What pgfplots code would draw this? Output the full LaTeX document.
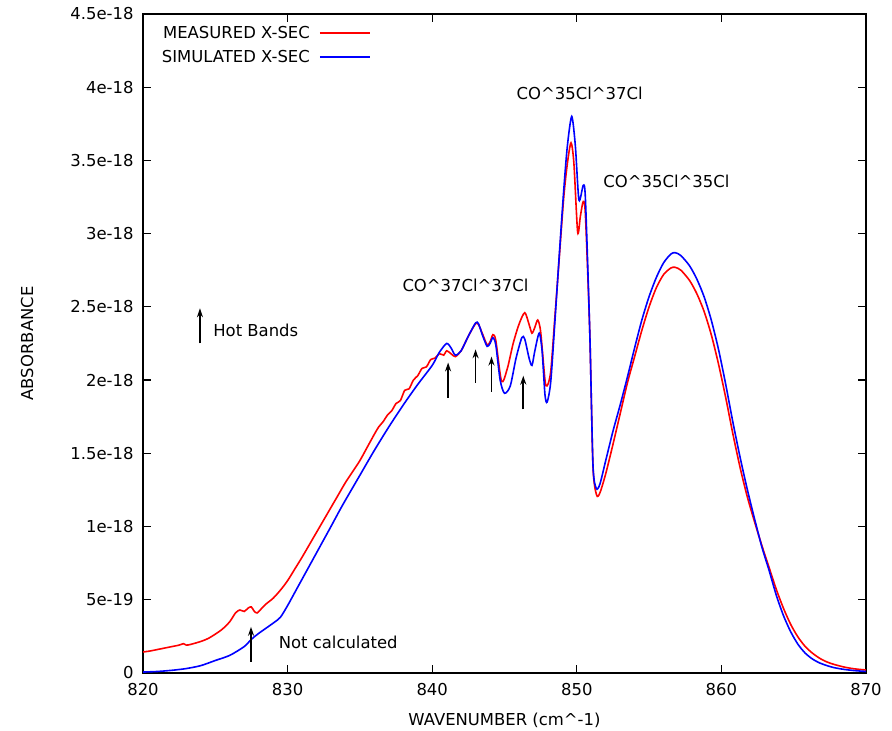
\documentclass[border=0pt]{standalone}
\usepackage{fontspec}
\setmainfont{DejaVu Sans}
\usepackage{pgfplots}
\pgfplotsset{compat=1.18}
\usetikzlibrary{arrows.meta}

% Absorbance cross sections, in units of 1e-18
\pgfplotstableread{
x y
820.0 0.143
820.5 0.150
821.0 0.160
821.5 0.170
822.0 0.180
822.5 0.190
822.8 0.200
823.0 0.190
823.3 0.195
824.0 0.215
824.5 0.235
825.0 0.265
825.5 0.300
826.0 0.350
826.4 0.410
826.7 0.430
827.0 0.420
827.3 0.445
827.5 0.450
827.7 0.420
827.9 0.410
828.2 0.440
828.5 0.470
829.0 0.510
829.5 0.565
830.0 0.630
830.5 0.710
831.0 0.790
831.5 0.875
832.0 0.960
832.5 1.045
833.0 1.130
833.5 1.215
834.0 1.300
834.5 1.375
835.0 1.450
835.5 1.540
836.0 1.630
836.3 1.680
836.6 1.715
836.9 1.760
837.2 1.790
837.5 1.840
837.8 1.860
838.1 1.930
838.4 1.940
838.7 2.000
839.0 2.030
839.3 2.080
839.6 2.090
839.9 2.140
840.2 2.150
840.5 2.180
840.8 2.170
841.0 2.200
841.3 2.180
841.6 2.160
842.0 2.200
842.5 2.300
843.0 2.385
843.2 2.380
843.5 2.310
843.8 2.240
844.0 2.260
844.2 2.310
844.4 2.270
844.8 1.990
845.2 2.080
845.6 2.250
846.0 2.380
846.4 2.460
846.7 2.380
846.9 2.320
847.1 2.360
847.3 2.410
847.5 2.330
847.8 2.000
847.95 1.960
848.2 2.060
848.5 2.450
848.8 2.850
849.1 3.250
849.35 3.480
849.6 3.620
849.8 3.480
850.06 3.010
850.25 3.120
850.45 3.220
850.6 3.120
850.9 2.320
851.12 1.410
851.37 1.215
851.6 1.230
852.0 1.360
852.5 1.560
853.0 1.770
853.5 1.980
854.0 2.160
854.5 2.340
855.0 2.500
855.5 2.630
856.0 2.720
856.5 2.765
856.8 2.770
857.2 2.750
857.8 2.680
858.3 2.590
858.8 2.470
859.3 2.310
859.8 2.110
860.3 1.880
860.8 1.630
861.3 1.400
861.8 1.200
862.3 1.030
862.8 0.870
863.3 0.720
863.8 0.570
864.3 0.440
864.8 0.330
865.3 0.245
865.8 0.180
866.3 0.135
866.8 0.100
867.3 0.075
867.8 0.058
868.5 0.040
869.2 0.028
870.0 0.020
}\measured

\pgfplotstableread{
x y
820.0 0.006
821.0 0.010
822.0 0.018
823.0 0.030
824.0 0.050
825.0 0.085
826.0 0.120
827.0 0.180
827.5 0.230
828.0 0.270
829.0 0.340
829.5 0.380
830.0 0.460
830.5 0.550
831.0 0.640
831.5 0.730
832.0 0.820
832.5 0.910
833.0 1.000
833.6 1.110
834.0 1.180
835.0 1.350
836.0 1.520
837.0 1.680
838.0 1.830
839.0 1.970
840.0 2.100
840.5 2.190
841.0 2.250
841.3 2.220
841.6 2.170
842.0 2.200
842.5 2.300
843.0 2.390
843.2 2.385
843.5 2.300
843.8 2.230
844.0 2.250
844.2 2.290
844.4 2.240
844.7 2.000
845.0 1.910
845.4 1.960
845.8 2.150
846.2 2.290
846.4 2.280
846.7 2.150
846.9 2.100
847.1 2.200
847.4 2.320
847.6 2.200
847.8 1.900
847.95 1.850
848.2 1.990
848.5 2.420
848.8 2.870
849.1 3.300
849.35 3.600
849.65 3.800
849.9 3.600
850.15 3.230
850.45 3.330
850.6 3.230
850.9 2.320
851.12 1.420
851.35 1.260
851.6 1.290
852.0 1.450
852.5 1.650
853.0 1.830
853.5 2.020
854.0 2.220
854.5 2.410
855.0 2.570
855.5 2.700
856.0 2.800
856.5 2.860
856.8 2.870
857.2 2.850
857.8 2.780
858.3 2.690
858.8 2.570
859.3 2.410
859.8 2.210
860.3 1.970
860.8 1.710
861.3 1.470
861.8 1.250
862.3 1.050
862.8 0.860
863.3 0.700
863.8 0.530
864.3 0.390
864.8 0.280
865.3 0.195
865.8 0.135
866.3 0.095
866.8 0.068
867.3 0.050
867.8 0.036
868.5 0.024
869.2 0.016
870.0 0.010
}\simulated

\begin{document}
\begin{tikzpicture}
\begin{axis}[
  scale only axis,
  width=723bp, height=659bp,
  xmin=820, xmax=870, ymin=0, ymax=4.5,
  xtick={820,830,840,850,860,870},
  ytick={0,0.5,1,1.5,2,2.5,3,3.5,4,4.5},
  yticklabels={0,5e-19,1e-18,1.5e-18,2e-18,2.5e-18,3e-18,3.5e-18,4e-18,4.5e-18},
  /pgf/number format/assume math mode=true,
  /pgf/number format/1000 sep={},
  tick pos=both, tick align=inside,
  major tick length=8bp,
  every tick/.style={black, line width=1.2bp},
  axis line style={line width=1.3bp},
  font=\fontsize{16.5}{19}\selectfont,
  tick label style={font=\fontsize{16.5}{19}\selectfont},
  xticklabel style={yshift=-7bp},
  yticklabel style={xshift=-6bp},
  xlabel={WAVENUMBER (cm\^{}-1)},
  ylabel={ABSORBANCE},
  xlabel style={at={(rel axis cs:0.5,-0.0713)}, anchor=center},
  ylabel style={at={(rel axis cs:-0.1604,0.5)}, anchor=center},
]
\addplot[red, line width=1.6bp, smooth, tension=0.45] table[x=x, y=y] {\measured};
\addplot[blue, line width=1.6bp, smooth, tension=0.45] table[x=x, y=y] {\simulated};

% key, in the top left corner
\node[anchor=east, inner sep=0pt] at (rel axis cs:0.2310,0.9712) {MEASURED X-SEC};
\draw[red, line width=1.6bp] (rel axis cs:0.2448,0.9712) -- (rel axis cs:0.3140,0.9712);
\node[anchor=east, inner sep=0pt] at (rel axis cs:0.2310,0.9347) {SIMULATED X-SEC};
\draw[blue, line width=1.6bp] (rel axis cs:0.2448,0.9347) -- (rel axis cs:0.3140,0.9347);

% band labels
\node at (axis cs:850.2,3.955) {CO\^{}35Cl\^{}37Cl};
\node at (axis cs:856.2,3.36) {CO\^{}35Cl\^{}35Cl};
\node at (axis cs:842.3,2.65) {CO\^{}37Cl\^{}37Cl};
\node at (axis cs:827.8,2.34) {Hot Bands};
\node at (axis cs:833.5,0.21) {Not calculated};

% arrows marking hot bands
\begin{scope}[line width=1.8bp, -{Stealth[length=9bp,width=6bp]}]
\draw (axis cs:823.94,2.25) -- (axis cs:823.94,2.49);
\draw (axis cs:841.1,1.88) -- (axis cs:841.1,2.12);
\draw (axis cs:843.0,1.98) -- (axis cs:843.0,2.21);
\draw (axis cs:844.1,1.92) -- (axis cs:844.1,2.16);
\draw (axis cs:846.3,1.80) -- (axis cs:846.3,2.03);
\draw (axis cs:827.47,0.075) -- (axis cs:827.47,0.315);
\end{scope}

\coordinate (bbsw) at (rel axis cs:-0.1978,-0.088);
\coordinate (bbne) at (rel axis cs:1.036,1.0212);
\end{axis}
\pgfresetboundingbox
\path[use as bounding box] (bbsw) rectangle (bbne);
\end{tikzpicture}
\end{document}
